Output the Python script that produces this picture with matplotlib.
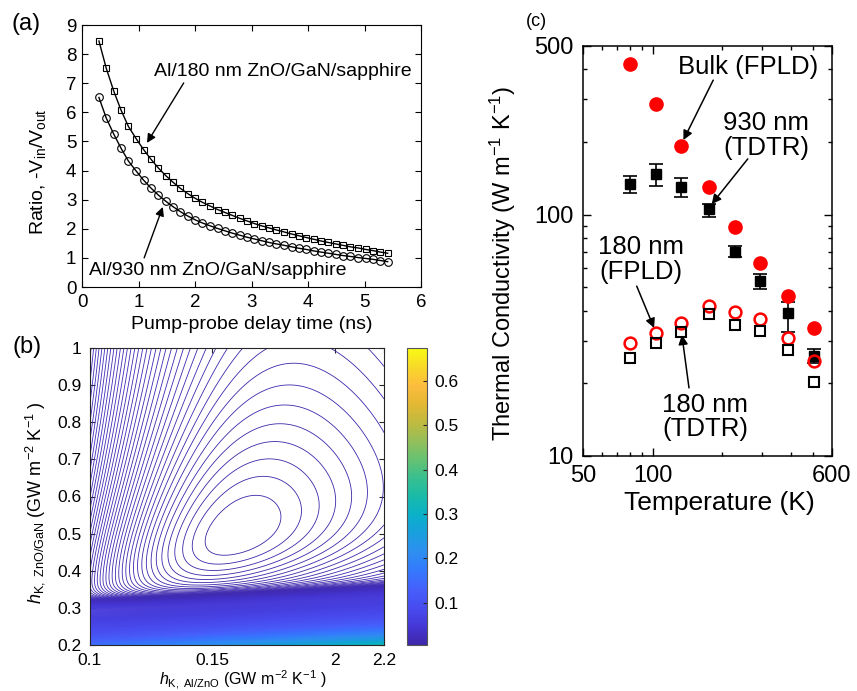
import numpy as np
import matplotlib
matplotlib.use('Agg')
import matplotlib.pyplot as plt
from matplotlib.colors import LinearSegmentedColormap, Normalize
from matplotlib.cm import ScalarMappable
from matplotlib.ticker import FixedLocator, NullFormatter

plt.rcParams['font.family'] = ['Liberation Sans', 'DejaVu Sans']
plt.rcParams['mathtext.fontset'] = 'custom'
plt.rcParams['mathtext.rm'] = 'Liberation Sans'
plt.rcParams['mathtext.it'] = 'Liberation Sans:italic'
plt.rcParams['mathtext.bf'] = 'Liberation Sans:bold'

# ---- (a) ratio vs pump-probe delay ----
delay_ns = [0.30, 0.43, 0.56, 0.69, 0.82, 0.96, 1.09, 1.22, 1.35, 1.48,
            1.61, 1.74, 1.87, 2.00, 2.13, 2.27, 2.40, 2.53, 2.66, 2.79,
            2.92, 3.05, 3.18, 3.31, 3.44, 3.58, 3.71, 3.84, 3.97, 4.10,
            4.23, 4.36, 4.49, 4.62, 4.75, 4.89, 5.02, 5.15, 5.28, 5.41]
ratio_180nm = [8.45, 7.51, 6.74, 6.08, 5.52, 5.09, 4.72, 4.39, 4.09, 3.83,
               3.60, 3.39, 3.21, 3.05, 2.91, 2.78, 2.66, 2.56, 2.46, 2.36,
               2.27, 2.18, 2.10, 2.03, 1.96, 1.89, 1.82, 1.76, 1.70, 1.64,
               1.58, 1.53, 1.48, 1.43, 1.38, 1.34, 1.29, 1.25, 1.20, 1.16]
ratio_930nm = [6.51, 5.80, 5.26, 4.77, 4.33, 3.98, 3.67, 3.40, 3.16, 2.95,
               2.76, 2.59, 2.44, 2.31, 2.20, 2.10, 2.01, 1.93, 1.85, 1.78,
               1.71, 1.65, 1.59, 1.53, 1.48, 1.43, 1.38, 1.33, 1.29, 1.24,
               1.20, 1.16, 1.12, 1.08, 1.05, 1.01, 0.98, 0.95, 0.91, 0.87]

# ---- (b) fit residual map (GW m-2 K-1) ----
hk_alzno_best = 0.161
hk_znogan_best = 0.51
res_min = 0.0045
width_r_alzno = 0.531      # half width of first ring, in 1/h
width_r_znogan = 0.272
ring_corr = 0.42
ring_step = 0.0005
ring_saturation = 25.0
level_step = 0.0005
steep_left = 0.0198
steep_right = 0.046
onset_left = 2.75           # 1/h where the residual starts rising fast
onset_right = 2.6
steep_sharp = 12.0
jump_height = 0.025         # sudden rise of the residual at low h_ZnO/GaN
jump_left = 3.2
jump_right = 2.87
jump_sharp = 25.0
cbar_min, cbar_max = 0.0046, 0.674
cbar_ticks = [0.1, 0.2, 0.3, 0.4, 0.5, 0.6]
b_xticks = [0.1, 0.15, 0.2, 0.22]
b_xticklabels = ['0.1', '0.15', '2', '2.2']
b_yticks = [0.2, 0.3, 0.4, 0.5, 0.6, 0.7, 0.8, 0.9, 1.0]
b_yticklabels = ['0.2', '0.3', '0.4', '0.5', '0.6', '0.7', '0.8', '0.9', '1']

# ---- (c) thermal conductivity vs temperature ----
temp_K = [80, 103, 133, 175, 228, 293, 387, 503]
k_bulk = [420, 286, 193, 130, 89, 63, 46, 34]
k_930nm = [134, 147, 130, 105, 70, 53, 39, 26]
k_930nm_low = [123, 131, 118.5, 98, 67, 49, 32.7, 24.2]
k_930nm_high = [145, 162, 142, 110.5, 74, 56.5, 43.5, 27.7]
k_180nm_fpld = [29.3, 32.4, 35.6, 41.9, 39.3, 36.8, 30.9, 24.7]
k_180nm_tdtr = [25.4, 29.3, 32.5, 38.7, 34.9, 32.9, 27.5, 20.2]

parula = LinearSegmentedColormap.from_list('parula', [
    (0.000, (0.2422, 0.1504, 0.6603)),
    (0.0625, (0.2717, 0.2184, 0.8439)),
    (0.125, (0.2813, 0.2985, 0.9397)),
    (0.1875, (0.2741, 0.3748, 0.9862)),
    (0.25, (0.2066, 0.4743, 0.9926)),
    (0.3125, (0.1800, 0.5600, 0.9450)),
    (0.375, (0.1000, 0.6200, 0.8700)),
    (0.4375, (0.0400, 0.6900, 0.7900)),
    (0.5, (0.1000, 0.7300, 0.6600)),
    (0.5625, (0.2200, 0.7500, 0.5600)),
    (0.625, (0.4000, 0.7600, 0.4500)),
    (0.6875, (0.5800, 0.7500, 0.3500)),
    (0.75, (0.7500, 0.7300, 0.2500)),
    (0.8125, (0.8900, 0.7200, 0.2000)),
    (0.875, (0.9900, 0.7400, 0.2400)),
    (0.9375, (0.9700, 0.8500, 0.1600)),
    (1.0, (0.9769, 0.9839, 0.0805)),
])

W, H = 857, 691


def px_axes(left, top, right, bottom):
    """Axes rectangle from pixel edges of the reference image."""
    return [left / W, 1 - bottom / H, (right - left) / W, (bottom - top) / H]


def draw_ratio(ax):
    """Panel (a): ratio curves for the two ZnO thicknesses."""
    ax.plot(delay_ns, ratio_180nm, '-s', color='k', lw=1.0, ms=5, mfc='none', mew=0.8)
    ax.plot(delay_ns, ratio_930nm, '-o', color='k', lw=1.0, ms=5.5, mfc='none', mew=0.8)
    ax.set_xlim(0, 6)
    ax.set_ylim(0, 9)
    ax.set_xticks(range(7))
    ax.set_yticks(range(10))
    ax.tick_params(direction='in', top=True, right=True, length=4, width=0.8, labelsize=13.5)
    ax.tick_params(axis='x', pad=5)
    ax.tick_params(axis='y', pad=4)
    for s in ax.spines.values():
        s.set_linewidth(0.8)
    ax.set_xlabel('Pump-probe delay time (ns)', fontsize=14, va='center')
    ax.xaxis.set_label_coords(0.5, -0.145)
    ax.set_ylabel(r'Ratio, -V$_{\rm in}$/V$_{\rm out}$', fontsize=14, va='center')
    ax.yaxis.set_label_coords(-0.13, 0.44)

    arrow = dict(arrowstyle='-|>', color='k', lw=1.0, mutation_scale=13, shrinkA=0, shrinkB=0)
    ax.text(1.27, 7.39, 'Al/180 nm ZnO/GaN/sapphire', fontsize=14, ha='left', va='center')
    ax.annotate('', xy=(1.15, 4.95), xytext=(1.80, 7.01), arrowprops=arrow)
    ax.text(0.12, 0.58, 'Al/930 nm ZnO/GaN/sapphire', fontsize=14, ha='left', va='center')
    ax.annotate('', xy=(1.43, 2.75), xytext=(1.10, 1.0), arrowprops=arrow)


def residual_map():
    """Fit residual over the two interface conductances."""
    hk1 = np.linspace(0.1, 0.22, 440)
    hk2 = np.linspace(0.2, 1.0, 520)
    H1, H2 = np.meshgrid(hk1, hk2)
    a = (1 / H1 - 1 / hk_alzno_best) / width_r_alzno
    b = (1 / H2 - 1 / hk_znogan_best) / width_r_znogan
    q = a ** 2 + b ** 2 - 2 * ring_corr * a * b
    q = q / np.sqrt(1 + q / ring_saturation)
    frac = (H1 - 0.1) / 0.12
    c = steep_left + (steep_right - steep_left) * frac
    r0 = onset_left + (onset_right - onset_left) * frac
    s = np.logaddexp(0, steep_sharp * (1 / H2 - r0)) / steep_sharp
    r_jump = jump_left + (jump_right - jump_left) * frac
    jump = jump_height / (1 + np.exp(-jump_sharp * (1 / H2 - r_jump)))
    return H1, H2, res_min + ring_step * q + c * s ** 2 + jump


def draw_residual(ax, cax):
    """Panel (b): contour map of the residual with colour bar."""
    H1, H2, F = residual_map()
    norm = Normalize(cbar_min, cbar_max)
    levels = np.arange(res_min + level_step, F.max(), level_step)
    ax.contour(H1, H2, F, levels=levels, cmap=parula, norm=norm, linewidths=0.6)
    ax.set_xlim(0.1, 0.22)
    ax.set_ylim(0.2, 1.0)
    ax.set_xticks(b_xticks)
    ax.set_xticklabels(b_xticklabels)
    ax.set_yticks(b_yticks)
    ax.set_yticklabels(b_yticklabels)
    ax.tick_params(direction='in', top=True, right=True, length=3.5, width=0.8,
                   labelsize=12.5, color='#262626')
    ax.tick_params(axis='x', pad=6)
    ax.tick_params(axis='y', pad=6)
    for s in ax.spines.values():
        s.set_linewidth(0.8)
        s.set_edgecolor('#262626')
    ax.set_xlabel(r'$h_{\rm K,\ Al/ZnO}$ (GW m$^{-2}$ K$^{-1}$ )', fontsize=11.5, va='center')
    ax.xaxis.set_label_coords(0.52, -0.115)
    ax.set_ylabel(r'$h_{\rm K,\ ZnO/GaN}$ (GW m$^{-2}$ K$^{-1}$ )', fontsize=13, va='center')
    ax.yaxis.set_label_coords(-0.187, 0.481)

    cb = plt.colorbar(ScalarMappable(norm=norm, cmap=parula), cax=cax, ticks=cbar_ticks)
    cb.ax.tick_params(direction='in', length=3, width=0.8, labelsize=12.5, pad=5, color='#262626')
    cb.outline.set_edgecolor('#555555')
    cb.outline.set_linewidth(0.8)


def draw_conductivity(ax):
    """Panel (c): thermal conductivity of bulk and thin-film ZnO."""
    ax.set_xscale('log')
    ax.set_yscale('log')
    yerr = [np.subtract(k_930nm, k_930nm_low), np.subtract(k_930nm_high, k_930nm)]
    ax.errorbar(temp_K, k_930nm, yerr=yerr, fmt='s', color='k', ms=7.5,
                capsize=5, elinewidth=1.2, capthick=1.2, zorder=3)
    ax.plot(temp_K, k_bulk, 'o', color='red', ms=9.5, zorder=3)
    ax.plot(temp_K, k_180nm_fpld, 'o', mfc='none', mec='red', mew=1.8, ms=8.5, zorder=4)
    ax.plot(temp_K, k_180nm_tdtr, 's', mfc='none', mec='k', mew=1.5, ms=6.5, zorder=4)

    ax.set_xlim(50, 600)
    ax.set_ylim(10, 500)
    ax.set_xticks([50, 100, 600])
    ax.set_xticklabels(['50', '100', '600'])
    ax.xaxis.set_minor_locator(FixedLocator([60, 70, 80, 90, 200, 300, 400, 500]))
    ax.xaxis.set_minor_formatter(NullFormatter())
    ax.set_yticks([10, 100, 500])
    ax.set_yticklabels(['10', '100', '500'])
    ax.yaxis.set_minor_locator(FixedLocator([20, 30, 40, 50, 60, 70, 80, 90, 200, 300, 400]))
    ax.yaxis.set_minor_formatter(NullFormatter())
    ax.tick_params(which='both', direction='in', top=True, right=True, width=1.0)
    ax.tick_params(which='major', length=6, labelsize=17)
    ax.tick_params(which='minor', length=3)
    ax.tick_params(axis='x', which='major', pad=6.5)
    ax.tick_params(axis='y', which='major', pad=7)
    for s in ax.spines.values():
        s.set_linewidth(1.1)
    ax.set_xlabel('Temperature (K)', fontsize=19, va='center')
    ax.xaxis.set_label_coords(0.546, -0.1146)
    ax.set_ylabel(r'Thermal Conductivity (W m$^{-1}$ K$^{-1}$)', fontsize=17, va='center')
    ax.yaxis.set_label_coords(-0.323, 0.47)

    arrow = dict(arrowstyle='-|>', color='k', lw=1.1, mutation_scale=14, shrinkA=0, shrinkB=0)
    fr = 'axes fraction'
    ax.text(0.663, 0.948, 'Bulk (FPLD)', transform=ax.transAxes, fontsize=18.5,
            ha='center', va='center')
    ax.annotate('', xy=(0.403, 0.770), xytext=(0.523, 0.916), xycoords=fr, arrowprops=arrow)
    ax.text(0.7355, 0.781, '930 nm\n(TDTR)', transform=ax.transAxes, fontsize=18.5,
            ha='center', va='center', linespacing=1.05)
    ax.annotate('', xy=(0.517, 0.614), xytext=(0.662, 0.724), xycoords=fr, arrowprops=arrow)
    ax.text(0.2307, 0.480, '180 nm\n(FPLD)', transform=ax.transAxes, fontsize=18.5,
            ha='center', va='center', linespacing=1.05)
    ax.annotate('', xy=(0.285, 0.312), xytext=(0.215, 0.414), xycoords=fr, arrowprops=arrow)
    ax.text(0.49, 0.095, '180 nm\n(TDTR)', transform=ax.transAxes, fontsize=18.5,
            ha='center', va='center', linespacing=1.05)
    ax.annotate('', xy=(0.397, 0.295), xytext=(0.4255, 0.166), xycoords=fr, arrowprops=arrow)


def main():
    fig = plt.figure(figsize=(W / 100, H / 100), dpi=100)
    ax_a = fig.add_axes(px_axes(82, 25, 421, 287))
    ax_b = fig.add_axes(px_axes(90, 348, 384, 645))
    cax = fig.add_axes(px_axes(407, 348, 427, 645))
    ax_c = fig.add_axes(px_axes(583.3, 45.7, 831.7, 456))

    draw_ratio(ax_a)
    draw_residual(ax_b, cax)
    draw_conductivity(ax_c)

    fig.text(26 / W, 1 - 24 / H, '(a)', fontsize=17, ha='center', va='center')
    fig.text(27 / W, 1 - 347 / H, '(b)', fontsize=17, ha='center', va='center')
    fig.text(536 / W, 1 - 21 / H, '(c)', fontsize=13, ha='center', va='center')

    fig.savefig('out.png', dpi=100)


if __name__ == '__main__':
    main()
